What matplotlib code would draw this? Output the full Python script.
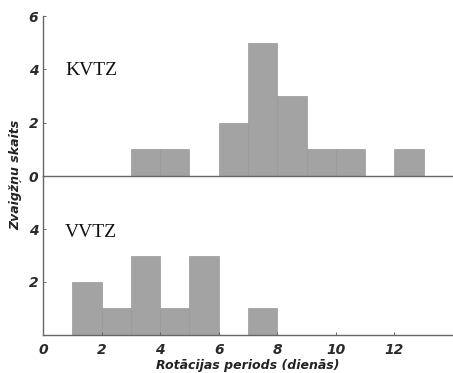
import numpy as np
import matplotlib
matplotlib.use('Agg')
from matplotlib import pyplot as plt

# histogram bins (left edges, width 1 day) and counts
kvtz_left = [3, 4, 6, 7, 8, 9, 10, 12]
kvtz_count = [1, 1, 2, 5, 3, 1, 1, 1]
vvtz_left = [1, 2, 3, 4, 5, 7]
vvtz_count = [2, 1, 3, 1, 3, 1]

x_ticks = [0, 2, 4, 6, 8, 10, 12]
top_yticks = [0, 2, 4, 6]
bot_yticks = [2, 4]

fig = plt.figure(figsize=(4.53, 3.73), dpi=100)
ax2 = fig.add_axes([0.095, 0.102, 0.905, 0.426])
ax1 = fig.add_axes([0.095, 0.528, 0.905, 0.429])
ax1.patch.set_visible(False)
ax2.patch.set_visible(False)

bar_kw = dict(width=1, align='edge', color='#a3a3a3', edgecolor='#999999', linewidth=0.5)
tick_font = dict(fontsize=10, fontweight='bold', style='italic', color='#2a2a2a')

ax1.bar(kvtz_left, kvtz_count, **bar_kw)
ax2.bar(vvtz_left, vvtz_count, **bar_kw)

for ax in (ax1, ax2):
    ax.set_xlim(0, 14)
    ax.set_ylim(0, 6)
    ax.spines['top'].set_visible(False)
    ax.spines['right'].set_visible(False)
    for s in ('left', 'bottom'):
        ax.spines[s].set_color('#666666')
        ax.spines[s].set_linewidth(1.0)
        ax.spines[s].set_zorder(5)
    ax.tick_params(length=2, width=0.7, color='#666666', direction='in')

ax1.set_xticks([])
ax1.set_yticks(top_yticks)
ax1.set_yticklabels([str(t) for t in top_yticks], **tick_font)
ax2.set_yticks(bot_yticks)
ax2.set_yticklabels([str(t) for t in bot_yticks], **tick_font)
ax2.set_xticks(x_ticks)
ax2.set_xticklabels([str(t) for t in x_ticks], **tick_font)
ax2.tick_params(axis='x', pad=6)

ax1.text(0.75, 3.97, 'KVTZ', family='Liberation Serif', fontsize=14, va='center', color='#111111')
ax2.text(0.75, 3.85, 'VVTZ', family='Liberation Serif', fontsize=14, va='center', color='#111111')

ax2.set_xlabel('Rotācijas periods (dienās)', fontsize=9, style='italic', fontweight='bold',
               color='#222222', labelpad=1)
fig.text(0.035, 0.53, 'Zvaigžņu skaits', rotation=90, fontsize=9, style='italic',
         fontweight='bold', color='#222222', ha='center', va='center')

plt.savefig('out.png', dpi=100)
